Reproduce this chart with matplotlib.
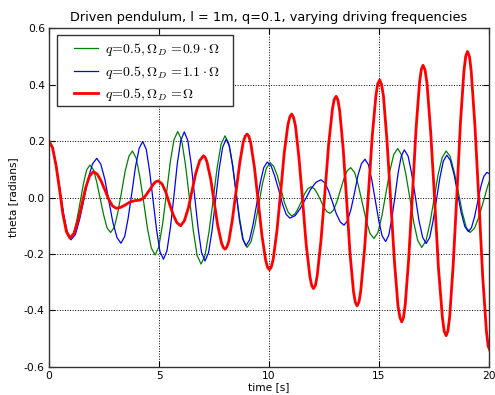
import matplotlib
matplotlib.use("Agg")
import matplotlib.pyplot as plt
from matplotlib.patches import Rectangle

# ---- data ----
t_red = [0, 0.16, 0.32, 0.48, 0.63, 0.79,
         0.95, 1.13, 1.31, 1.49, 1.66, 1.84,
         2.02, 2.19, 2.36, 2.54, 2.71, 2.88,
         3.05, 3.25, 3.45, 3.68, 3.9, 4.14, 4.3, 4.44, 4.6, 4.74, 4.85,
         4.97, 5.14, 5.31, 5.47, 5.64, 5.81,
         5.98, 6.15, 6.33, 6.50, 6.67, 6.85,
         7.02, 7.10, 7.18, 7.35, 7.51, 7.67, 7.84, 7.92,
         8.00, 8.08, 8.17, 8.33, 8.50, 8.67, 8.83, 8.92,
         9.00, 9.085, 9.17, 9.34, 9.51, 9.68, 9.85, 9.935,
         10.02, 10.10, 10.19, 10.36, 10.53, 10.69, 10.86, 10.95,
         11.03, 11.11, 11.20, 11.36, 11.53, 11.69, 11.86, 11.94,
         12.02, 12.11, 12.19, 12.36, 12.54, 12.71, 12.88, 12.96,
         13.05, 13.13, 13.21, 13.37, 13.53, 13.68, 13.84, 13.92,
         14.00, 14.09, 14.17, 14.34, 14.52, 14.69, 14.86, 14.94,
         15.03, 15.11, 15.20, 15.36, 15.53, 15.70, 15.86, 15.95,
         16.03, 16.11, 16.19, 16.35, 16.52, 16.68, 16.84, 16.92,
         17.00, 17.09, 17.18, 17.35, 17.53, 17.70, 17.88, 17.96,
         18.05, 18.13, 18.21, 18.37, 18.54, 18.70, 18.86, 18.94,
         19.02, 19.11, 19.19, 19.36, 19.54, 19.71, 19.88, 19.96, 20.05]
theta_red = [0.200, 0.177, 0.114, 0.028, -0.058, -0.121,
             -0.144, -0.128, -0.085, -0.026, 0.033, 0.076,
             0.092, 0.083, 0.060, 0.027, -0.006, -0.029,
             -0.038, -0.035, -0.027, -0.016, -0.011, -0.009, -0.002, 0.012, 0.030, 0.047, 0.056,
             0.059, 0.048, 0.019, -0.021, -0.060, -0.089,
             -0.100, -0.083, -0.038, 0.024, 0.086, 0.131,
             0.148, 0.142, 0.126, 0.065, -0.018, -0.100, -0.161, -0.177,
             -0.183, -0.176, -0.156, -0.081, 0.021, 0.123, 0.198, 0.218,
             0.225, 0.217, 0.193, 0.105, -0.016, -0.136, -0.224, -0.248,
             -0.256, -0.247, -0.219, -0.118, 0.020, 0.158, 0.259, 0.287,
             0.296, 0.285, 0.255, 0.141, -0.014, -0.168, -0.282, -0.312,
             -0.323, -0.311, -0.277, -0.153, 0.018, 0.189, 0.313, 0.347,
             0.359, 0.346, 0.309, 0.173, -0.013, -0.198, -0.334, -0.371,
             -0.384, -0.370, -0.330, -0.184, 0.017, 0.217, 0.363, 0.403,
             0.417, 0.402, 0.360, 0.203, -0.012, -0.227, -0.384, -0.426,
             -0.441, -0.426, -0.380, -0.214, 0.014, 0.242, 0.408, 0.454,
             0.469, 0.453, 0.405, 0.229, -0.011, -0.250, -0.426, -0.474,
             -0.490, -0.473, -0.423, -0.238, 0.014, 0.266, 0.450, 0.501,
             0.518, 0.500, 0.447, 0.252, -0.014, -0.279, -0.474, -0.527, -0.545]

t_green = [0, 0.16, 0.33, 0.49, 0.65, 0.82,
           0.98, 1.13, 1.27, 1.42, 1.57, 1.71,
           1.86, 2.02, 2.17, 2.33, 2.49, 2.64,
           2.80, 2.97, 3.13, 3.30, 3.46, 3.63,
           3.79, 3.96, 4.13, 4.31, 4.48, 4.65,
           4.82, 4.99, 5.16, 5.34, 5.51, 5.68,
           5.85, 6.03, 6.20, 6.38, 6.56, 6.73,
           6.91, 7.09, 7.27, 7.46, 7.64, 7.82,
           8.00, 8.17, 8.33, 8.50, 8.67, 8.83,
           9.00, 9.18, 9.35, 9.53, 9.70, 9.88,
           10.05, 10.21, 10.38, 10.54, 10.70, 10.87,
           11.03, 11.18, 11.32, 11.47, 11.61, 11.76,
           11.90, 12.05, 12.19, 12.34, 12.48, 12.63,
           12.77, 12.93, 13.08, 13.24, 13.40, 13.55,
           13.71, 13.89, 14.06, 14.24, 14.42, 14.59,
           14.77, 14.95, 15.13, 15.31, 15.49, 15.67,
           15.85, 16.03, 16.21, 16.40, 16.58, 16.76,
           16.94, 17.13, 17.31, 17.50, 17.68, 17.87,
           18.05, 18.23, 18.41, 18.60, 18.78, 18.96,
           19.14, 19.34, 19.54, 19.75, 19.95, 20.15]
theta_green = [0.200, 0.177, 0.115, 0.029, -0.057, -0.119,
               -0.142, -0.125, -0.078, -0.014, 0.051, 0.098,
               0.115, 0.099, 0.055, -0.005, -0.064, -0.108,
               -0.124, -0.105, -0.052, 0.021, 0.093, 0.146,
               0.165, 0.140, 0.073, -0.020, -0.112, -0.179,
               -0.204, -0.175, -0.095, 0.015, 0.125, 0.205,
               0.234, 0.203, 0.117, -0.001, -0.119, -0.205,
               -0.236, -0.206, -0.122, -0.009, 0.105, 0.189,
               0.219, 0.192, 0.120, 0.021, -0.078, -0.150,
               -0.177, -0.157, -0.102, -0.027, 0.049, 0.104,
               0.124, 0.111, 0.077, 0.030, -0.018, -0.052,
               -0.065, -0.058, -0.039, -0.014, 0.012, 0.031,
               0.038, 0.032, 0.015, -0.009, -0.033, -0.050,
               -0.056, -0.045, -0.016, 0.025, 0.066, 0.095,
               0.106, 0.089, 0.043, -0.020, -0.082, -0.128,
               -0.145, -0.124, -0.065, 0.015, 0.094, 0.153,
               0.174, 0.150, 0.086, -0.002, -0.089, -0.153,
               -0.177, -0.154, -0.092, -0.006, 0.080, 0.142,
               0.165, 0.146, 0.093, 0.021, -0.052, -0.105,
               -0.124, -0.109, -0.068, -0.012, 0.044, 0.085]

t_blue = [0, 0.17, 0.33, 0.50, 0.67, 0.83,
          1.00, 1.20, 1.39, 1.59, 1.78, 1.98,
          2.17, 2.35, 2.54, 2.72, 2.90, 3.09,
          3.27, 3.44, 3.60, 3.77, 3.93, 4.10,
          4.26, 4.42, 4.57, 4.73, 4.89, 5.04,
          5.20, 5.36, 5.52, 5.68, 5.83, 5.99,
          6.15, 6.31, 6.46, 6.62, 6.78, 6.93,
          7.09, 7.25, 7.41, 7.57, 7.73, 7.89,
          8.05, 8.20, 8.35, 8.50, 8.65, 8.80,
          8.95, 9.11, 9.27, 9.44, 9.60, 9.76,
          9.92, 10.09, 10.26, 10.44, 10.61, 10.78,
          10.95, 11.19, 11.42, 11.66, 11.89, 12.13,
          12.36, 12.54, 12.71, 12.89, 13.06, 13.24,
          13.41, 13.57, 13.73, 13.89, 14.04, 14.20,
          14.36, 14.52, 14.67, 14.83, 14.99, 15.14,
          15.30, 15.44, 15.58, 15.73, 15.87, 16.01,
          16.15, 16.32, 16.48, 16.65, 16.81, 16.98,
          17.14, 17.30, 17.45, 17.61, 17.77, 17.92,
          18.08, 18.24, 18.41, 18.57, 18.73, 18.90,
          19.06, 19.20, 19.34, 19.48, 19.62, 19.76, 19.90, 20.05]
theta_blue = [0.200, 0.177, 0.113, 0.025, -0.063, -0.127,
              -0.150, -0.131, -0.078, -0.006, 0.067, 0.120,
              0.139, 0.119, 0.064, -0.012, -0.087, -0.142,
              -0.162, -0.138, -0.072, 0.019, 0.109, 0.175,
              0.199, 0.171, 0.095, -0.010, -0.115, -0.191,
              -0.219, -0.189, -0.106, 0.007, 0.120, 0.203,
              0.233, 0.202, 0.119, 0.004, -0.111, -0.194,
              -0.225, -0.196, -0.117, -0.009, 0.099, 0.178,
              0.207, 0.182, 0.113, 0.018, -0.077, -0.146,
              -0.171, -0.151, -0.097, -0.023, 0.052, 0.106,
              0.126, 0.113, 0.076, 0.027, -0.023, -0.060,
              -0.073, -0.064, -0.039, -0.005, 0.029, 0.054,
              0.063, 0.052, 0.023, -0.018, -0.058, -0.087,
              -0.098, -0.082, -0.040, 0.019, 0.078, 0.120,
              0.136, 0.116, 0.063, -0.010, -0.083, -0.136,
              -0.156, -0.134, -0.075, 0.007, 0.088, 0.147,
              0.169, 0.147, 0.086, 0.003, -0.080, -0.141,
              -0.163, -0.142, -0.085, -0.007, 0.072, 0.129,
              0.150, 0.132, 0.082, 0.015, -0.053, -0.103,
              -0.121, -0.107, -0.069, -0.016, 0.037, 0.075, 0.089, 0.083]

labels = [r"$q\!=\!0.5,\Omega_D\,=\!0.9\cdot\Omega$",
          r"$q\!=\!0.5,\Omega_D\,=\!1.1\cdot\Omega$",
          r"$q\!=\!0.5,\Omega_D\,=\!\Omega$"]
title = "Driven pendulum, l = 1m, q=0.1, varying driving frequencies"
x_ticks = [0, 5, 10, 15, 20]
y_ticks = [-0.6, -0.4, -0.2, 0.0, 0.2, 0.4, 0.6]

plt.rcParams.update({
    "font.family": "DejaVu Sans",
    "mathtext.fontset": "cm",
    "axes.unicode_minus": False,
    "xtick.direction": "in",
    "ytick.direction": "in",
    "xtick.top": True,
    "ytick.right": True,
    "xtick.major.size": 4,
    "ytick.major.size": 4,
    "lines.solid_joinstyle": "round",
})

W, H = 495, 395
fig = plt.figure(figsize=(W / 100, H / 100), dpi=100)
ax = fig.add_axes([0.099, 0.0716, 0.889, 0.8566])

ax.plot(t_green, theta_green, color=(0, 0.5, 0), lw=0.9, label=labels[0])
ax.plot(t_blue, theta_blue, color=(0, 0, 1), lw=0.9, label=labels[1])
ax.plot(t_red, theta_red, color=(1, 0, 0), lw=2.0, label=labels[2])

ax.set_xlim(0, 20)
ax.set_ylim(-0.6, 0.6)
ax.set_xticks(x_ticks)
ax.set_yticks(y_ticks)
ax.set_yticklabels(["%.1f" % v for v in y_ticks])
ax.tick_params(labelsize=7.7, pad=3, width=0.8)
ax.grid(True, color="k", linestyle=":", linewidth=0.7)
for s in ax.spines.values():
    s.set_linewidth(1.0)
    s.set_color("#333333")

ax.set_title(title, fontsize=9.3, pad=5)
ax.set_xlabel("time [s]", fontsize=7.7, labelpad=1)
ax.set_ylabel("theta [radians]", fontsize=7.7, labelpad=4)

# legend frame (drawn as a separate box, like the reference's wide padding)
frame = Rectangle((57 / W, 1 - 106 / H), 176 / W, 71 / H, transform=fig.transFigure,
                  facecolor="white", edgecolor="#333333", linewidth=1.0,
                  zorder=4, clip_on=False)
ax.add_patch(frame)

leg = ax.legend(loc="upper left", fontsize=10.0, frameon=False,
                bbox_to_anchor=(74 / W, 1 - 41 / H), bbox_transform=fig.transFigure,
                borderaxespad=0, borderpad=0, handlelength=1.7,
                handletextpad=0.55, labelspacing=0.4)
leg.set_zorder(5)

fig.savefig("out.png", dpi=100, facecolor="white")
